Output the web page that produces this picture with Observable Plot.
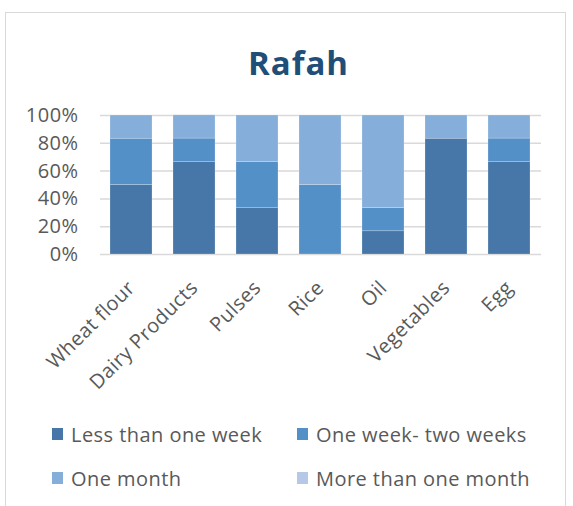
<!DOCTYPE html>
<html><head><meta charset="utf-8">
<script src="https://cdn.jsdelivr.net/npm/d3@7"></script>
<script src="https://cdn.jsdelivr.net/npm/@observablehq/plot@0.6"></script>
<style>
body{margin:0;background:#fff;font-family:"Open Sans",sans-serif;}
#frame{position:absolute;left:5px;top:12px;width:561px;height:520px;border:1.5px solid #d9d9d9;box-sizing:border-box;}
#title{position:absolute;left:12px;width:573px;top:40px;text-align:center;font-weight:bold;font-size:33px;letter-spacing:1px;color:#1f4e79;}
#chart{position:absolute;left:0;top:0;}
.leg{position:absolute;font-size:20px;letter-spacing:0.45px;color:#595959;white-space:nowrap;line-height:20px;}
.sw{position:absolute;width:11px;height:12px;}
</style></head>
<body>
<div id="frame"></div>
<div id="title">Rafah</div>
<div id="chart"></div>
<div id="legend"></div>
<script>
const categories = ["Wheat flour","Dairy Products","Pulses","Rice","Oil","Vegetables","Egg"];
const seriesNames = ["Less than one week","One week- two weeks","One month","More than one month"];
const lessThanOneWeek = [50, 66.7, 33.3, 0, 16.7, 83.3, 66.7];
const oneToTwoWeeks   = [33.3, 16.7, 33.3, 50, 16.7, 0, 16.7];
const oneMonth        = [16.7, 16.7, 33.4, 50, 66.6, 16.7, 16.6];
const moreThanOneMonth= [0, 0, 0, 0, 0, 0, 0];
const colors = ["#4677a8","#5390c7","#85aedb","#b5c9e7"];
const yTicks = [0,20,40,60,80,100];

const seriesValues = [lessThanOneWeek, oneToTwoWeeks, oneMonth, moreThanOneMonth];
const data = [];
seriesValues.forEach((vals, s) => vals.forEach((v, i) => data.push({cat: categories[i], series: seriesNames[s], value: v})));

const chart = Plot.plot({
  width: 573, height: 400,
  marginTop: 115, marginBottom: 146, marginLeft: 100, marginRight: 32,
  style: {fontFamily: "'Open Sans', sans-serif", fontSize: "20px", color: "#595959", background: "transparent", letterSpacing: "0.45px"},
  x: {domain: categories, paddingInner: 0.33, paddingOuter: 0.165, label: null},
  y: {domain: [0, 100], label: null},
  color: {domain: seriesNames, range: colors},
  marks: [
    Plot.ruleY(yTicks, {stroke: "#d9d9d9", strokeWidth: 1.5}),
    Plot.barY(data, {x: "cat", y: "value", fill: "series", order: seriesNames, stroke: "white", strokeOpacity: 0.35, strokeWidth: 0.6}),
    Plot.axisY({ticks: yTicks, tickFormat: d => d + "%", tickSize: 0, tickPadding: 22, fontSize: 20, fill: "#595959"}),
    Plot.axisX({tickSize: 0, tickRotate: -45, tickPadding: 30, dx: 0, fontSize: 20, fill: "#595959"})
  ]
});
document.getElementById("chart").appendChild(chart);

const legendPos = [[52, 441], [297, 441], [52, 485], [297, 485]];
const leg = document.getElementById("legend");
seriesNames.forEach((n, i) => {
  const sw = document.createElement("div");
  sw.className = "sw";
  sw.style.left = legendPos[i][0] + "px";
  sw.style.top = (legendPos[i][1] - 13) + "px";
  sw.style.background = colors[i];
  leg.appendChild(sw);
  const d = document.createElement("div");
  d.className = "leg";
  d.style.left = (legendPos[i][0] + 19) + "px";
  d.style.top = (legendPos[i][1] - 16) + "px";
  d.textContent = n;
  leg.appendChild(d);
});
</script>
</body></html>
